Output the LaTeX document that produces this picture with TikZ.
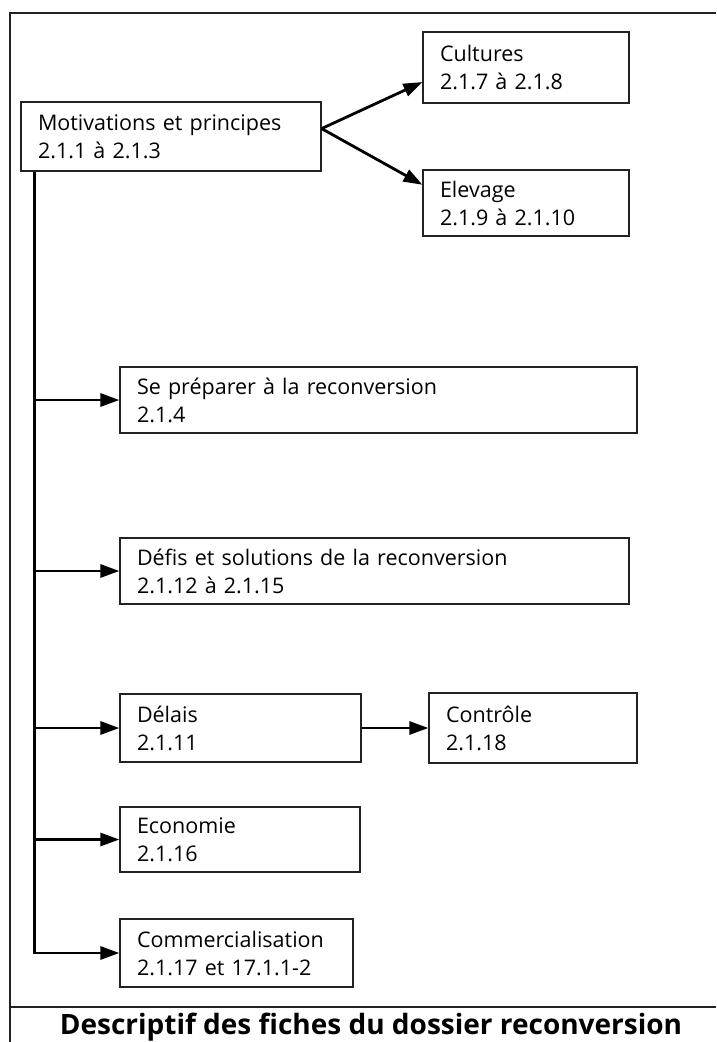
\documentclass[tikz,border=0pt]{standalone}
\usepackage{fontspec}
\setmainfont{Open Sans}
\usepackage{xcolor}
\definecolor{DarkGrey}{HTML}{222222}
\usepackage{tikz}
\usetikzlibrary{arrows.meta,positioning}
\newcommand\Inset{17pt}
\newcommand\TextSize{\fontsize{21.5}{28}\selectfont}
\tikzstyle{fiche}=[rectangle,draw=DarkGrey,line width=1.2pt,align=left,
                     inner xsep=\Inset,inner ysep=0pt,font=\TextSize]
\tikzstyle{link}=[line width=2.8pt,-{Triangle[length=19pt,width=13pt]}]
\tikzstyle{frame}=[line width=1.4pt,draw=DarkGrey]
\tikzset{dims/.style 2 args={minimum width=#1pt,text width=#1pt-34pt,minimum height=#2pt}}

\begin{document}
\begin{tikzpicture}[x=1pt,y=-1pt]
      \useasboundingbox (0,0) rectangle (716,1042);
      % cadre
      \draw[frame] (716,13) -- (10,13) -- (10,1042);
      \draw[frame] (10,1007) -- (716,1007);
      % fiches
      \node[fiche,dims={300}{69}] (mot) at (171,136.5) {Motivations et principes\\2.1.1 à 2.1.3};
      \node[fiche,dims={206}{71}] (cult) at (526,67.5) {Cultures\\2.1.7 à 2.1.8};
      \node[fiche,dims={206}{66}] (elev) at (526,203) {Elevage\\2.1.9 à 2.1.10};
      \node[fiche,dims={517}{66}] (prep) at (378.5,400) {Se préparer à la reconversion\\2.1.4};
      \node[fiche,dims={509}{66}] (defis) at (374.5,571) {Défis et solutions de la reconversion\\2.1.12 à 2.1.15};
      \node[fiche,dims={241}{68}] (delais) at (240.5,728) {Délais\\2.1.11};
      \node[fiche,dims={208}{70}] (ctrl) at (533,728) {Contrôle\\2.1.18};
      \node[fiche,dims={240}{65}] (eco) at (240,839.5) {Economie\\2.1.16};
      \node[fiche,dims={233}{68}] (comm) at (236.5,953) {Commercialisation\\2.1.17 et 17.1.1-2};
      \node[anchor=base,font=\fontsize{28}{32}\selectfont\bfseries] (titre) at (371,1034.5) {Descriptif des fiches du dossier reconversion};
      % liens
      \path (mot.south west) ++(14,0) coordinate (trunk);
      \draw[link] (mot.3) -- (cult.188);
      \draw[link] (mot.3) -- (elev.170);
      \draw[link] (trunk) |- (comm.west);
      \draw[link] (trunk |- prep.west) -- (prep.west);
      \draw[link] (trunk |- defis.west) -- (defis.west);
      \draw[link] (trunk |- delais.west) -- (delais.west);
      \draw[link] (trunk |- eco.west) -- (eco.west);
      \draw[link] (delais.east) -- (ctrl.west);
   \end{tikzpicture}
\end{document}
